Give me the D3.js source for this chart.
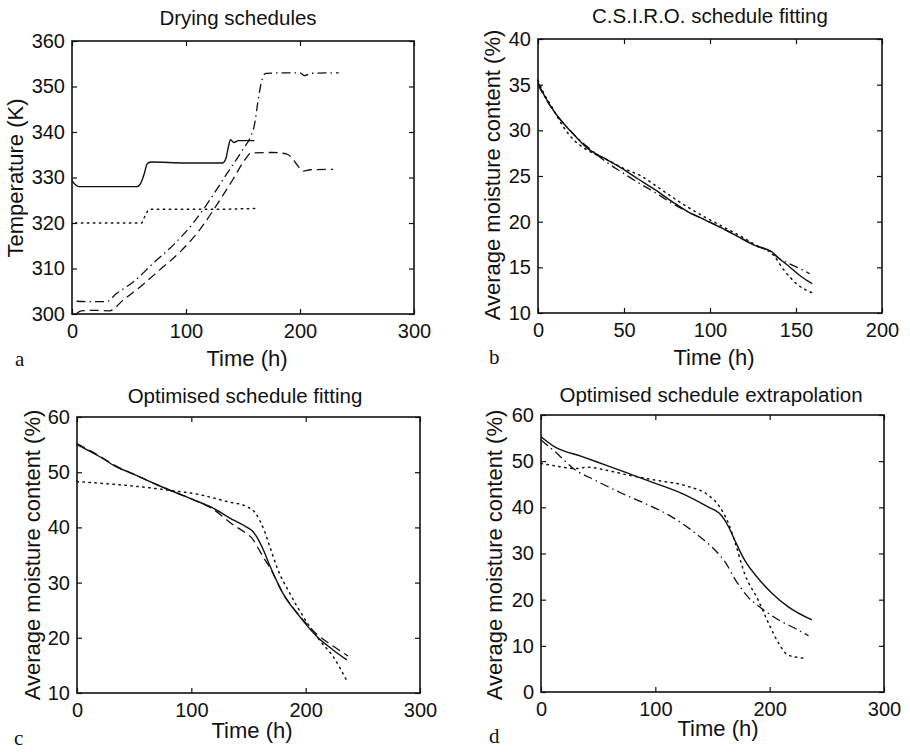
<!DOCTYPE html>
<html>
<head>
<meta charset="utf-8">
<script src="https://cdn.jsdelivr.net/npm/d3@7"></script>
<style>
  html, body { margin: 0; padding: 0; background: #fff; }
  svg { display: block; }
  text { font-family: "Liberation Sans", Arial, Helvetica, sans-serif; fill: #111; }
  .letter { font-family: "Liberation Serif", "DejaVu Serif", serif; }
</style>
</head>
<body>
<svg id="chart" width="910" height="752"></svg>
<script>
// ---------------- DATA ----------------
// Panel a: Drying schedules (Time h, Temperature K)
const aTicksX = [0, 100, 200, 300];
const aTicksY = [300, 310, 320, 330, 340, 350, 360];
const aSolid = [[0,329.3],[3,328.4],[6,328.0],[30,328.0],[57,328.0],[60,328.6],[63,330.5],[66,333.0],[69,333.4],[100,333.2],[132,333.2],[135,334.2],[137,336.5],[139,338.3],[142,337.7],[146,338.1],[160,338.1]];
const aDotted = [[3,320.0],[61,320.0],[64,321.5],[68,323.0],[120,323.0],[162,323.2]];
const aDashed = [[4,300.1],[8,300.7],[20,300.8],[33,300.7],[45,303.1],[60,306.0],[77,309.7],[95,313.7],[112,318.5],[127,324.0],[141,329.5],[152,334.0],[157,335.4],[175,335.5],[188,335.2],[193,334.3],[198,332.6],[203,331.4],[209,331.7],[229,331.8]];
const aDashDot = [[4,302.8],[15,302.7],[30,302.7],[39,304.5],[54,307.1],[71,311.1],[89,315.2],[106,319.9],[118,324.0],[136,330.9],[150,336.2],[157,339.2],[160,341.5],[163,346.5],[166,350.8],[170,352.9],[185,353.0],[200,353.0],[204,352.4],[210,352.9],[234,353.0]];

// Panel b: C.S.I.R.O. schedule fitting (Time h, moisture %)
const bTicksX = [0, 50, 100, 150, 200];
const bTicksY = [10, 15, 20, 25, 30, 35, 40];
const bSolid = [[0,35.3],[2,34.4],[4,33.7],[10,31.9],[20,29.7],[29,28.0],[39,26.9],[49,25.8],[58,24.7],[68,23.5],[78,22.2],[87,21.1],[97,20.2],[107,19.3],[116,18.4],[126,17.4],[136,16.7],[140,16.0],[146,15.1],[153,14.0],[159.5,13.2]];
const bDashDot = [[0,35.0],[4,33.6],[10,31.9],[20,29.7],[30,28.0],[40,26.5],[48,25.5],[58,24.3],[68,23.2],[78,22.0],[88,21.0],[97,20.2],[107,19.3],[116,18.4],[126,17.4],[136,16.6],[140,16.0],[146,15.4],[153,14.8],[158,14.3]];
const bDotted = [[0,35.5],[3,34.2],[8,32.6],[14,30.6],[20,29.1],[29,27.8],[40,26.8],[50,25.8],[60,25.0],[68,24.0],[78,22.7],[87,21.6],[97,20.5],[107,19.5],[117,18.5],[126,17.5],[137,16.3],[143,14.7],[151,13.1],[159.5,12.2]];

// Panel c: Optimised schedule fitting
const cTicksX = [0, 100, 200, 300];
const cTicksY = [10, 20, 30, 40, 50, 60];
const cSolid = [[0,55.0],[20,52.8],[35,50.9],[49,49.7],[67,48.0],[84,46.5],[102,45.0],[119,43.5],[137,41.3],[148,40.1],[154,39.2],[158,38.0],[163,35.9],[169,32.9],[180,28.1],[195,23.8],[210,20.2],[224,17.8],[236,16.0]];
const cDashed = [[0,55.2],[20,52.9],[35,51.0],[49,49.7],[67,48.0],[84,46.5],[102,45.0],[119,43.3],[135,40.7],[148,38.9],[154,37.8],[158,36.4],[163,34.6],[169,32.6],[180,28.1],[195,23.9],[210,20.6],[224,18.5],[237,16.7]];
const cDotted = [[0,48.3],[20,48.0],[49,47.5],[78,46.8],[108,45.9],[131,44.7],[148,43.8],[156,42.6],[160,41.2],[164,39.3],[169,36.3],[175,32.7],[186,28.1],[198,23.8],[212,19.6],[224,16.6],[237,11.8]];

// Panel d: Optimised schedule extrapolation
const dTicksX = [0, 100, 200, 300];
const dTicksY = [0, 10, 20, 30, 40, 50, 60];
const dSolid = [[0,55.3],[12,53.1],[36,51.0],[56,49.2],[76,47.4],[100,45.2],[126,42.7],[146,40.1],[156,38.7],[160,37.5],[164,35.8],[170,32.6],[178,28.6],[190,24.6],[202,21.4],[216,18.5],[237,15.6]];
const dDashDot = [[0,54.6],[12,52.1],[30,48.1],[47,45.9],[71,43.0],[94,40.5],[114,38.0],[135,34.4],[155,30.0],[161,28.2],[170,24.3],[181,20.6],[193,18.1],[208,15.6],[222,13.8],[234,12.2]];
const dDotted = [[0,49.5],[12,49.0],[30,48.4],[41,48.7],[56,48.1],[76,47.0],[100,45.9],[129,44.5],[146,42.7],[156,40.2],[164,36.5],[170,32.2],[178,25.7],[190,19.9],[199,14.9],[208,10.5],[216,8.0],[231,7.3]];

// ---------------- STYLES ----------------
const STYLE = {
  solid:   { dash: null,              width: 1.4 },
  dashed:  { dash: "9,5",             width: 1.3 },
  dotted:  { dash: "1.4,4.6",         width: 1.5 },
  dashdot: { dash: "9,4,1.5,4",       width: 1.3 }
};

const svg = d3.select("#chart");

function drawPanel(cfg) {
  const x = d3.scaleLinear().domain(cfg.xDomain).range([cfg.left, cfg.right]);
  const y = d3.scaleLinear().domain(cfg.yDomain).range([cfg.bottom, cfg.top]);
  const g = svg.append("g");
  const tick = 5;

  // bottom axis (labels) with inward ticks
  const ax = g.append("g").attr("transform", `translate(0,${cfg.bottom})`)
    .call(d3.axisBottom(x).tickValues(cfg.xTicks).tickSizeInner(-tick).tickSizeOuter(0).tickPadding(10).tickFormat(d3.format("d")));
  ax.selectAll("text").attr("font-size", 20);
  // top axis ticks
  g.append("g").attr("transform", `translate(0,${cfg.top})`)
    .call(d3.axisTop(x).tickValues(cfg.xTicks).tickSizeInner(-tick).tickSizeOuter(0).tickFormat(""));
  // left axis
  const ay = g.append("g").attr("transform", `translate(${cfg.left},0)`)
    .call(d3.axisLeft(y).tickValues(cfg.yTicks).tickSizeInner(-tick).tickSizeOuter(0).tickPadding(7).tickFormat(d3.format("d")));
  ay.selectAll("text").attr("font-size", 20);
  // right axis ticks
  g.append("g").attr("transform", `translate(${cfg.right},0)`)
    .call(d3.axisRight(y).tickValues(cfg.yTicks).tickSizeInner(-tick).tickSizeOuter(0).tickFormat(""));

  g.selectAll(".domain").remove();
  g.selectAll(".tick line").attr("stroke", "#111").attr("stroke-width", 1.2);
  g.selectAll(".tick text").attr("fill", "#111").attr("font-family", '"Liberation Sans", Arial, sans-serif');

  // frame
  g.append("rect")
    .attr("x", cfg.left).attr("y", cfg.top)
    .attr("width", cfg.right - cfg.left).attr("height", cfg.bottom - cfg.top)
    .attr("fill", "none").attr("stroke", "#111").attr("stroke-width", 1.6);

  // series
  const line = d3.line().x(d => x(d[0])).y(d => y(d[1])).curve(d3.curveMonotoneX);
  cfg.series.forEach(s => {
    const st = STYLE[s.style];
    g.append("path").datum(s.data)
      .attr("d", line)
      .attr("fill", "none")
      .attr("stroke", "#111")
      .attr("stroke-width", st.width)
      .attr("stroke-linecap", s.style === "dotted" ? "round" : "butt")
      .attr("stroke-dasharray", st.dash);
  });

  // title
  g.append("text").attr("x", cfg.titleX).attr("y", cfg.titleY)
    .attr("text-anchor", "middle").attr("font-size", 20.5).text(cfg.title);
  // x label
  g.append("text").attr("x", cfg.xLabelX).attr("y", cfg.xLabelY)
    .attr("text-anchor", "middle").attr("font-size", 22).text(cfg.xLabel);
  // y label
  g.append("text")
    .attr("transform", `translate(${cfg.yLabelX},${cfg.yLabelY}) rotate(-90)`)
    .attr("text-anchor", "middle").attr("dy", "0.35em").attr("font-size", 22).text(cfg.yLabel);
  // panel letter
  g.append("text").attr("class", "letter").attr("x", cfg.letterX).attr("y", cfg.letterY)
    .attr("font-size", 21).text(cfg.letter);
}

drawPanel({
  left: 72, right: 414, top: 41, bottom: 314,
  xDomain: [0, 300], yDomain: [300, 360], xTicks: aTicksX, yTicks: aTicksY,
  title: "Drying schedules", titleX: 238, titleY: 25,
  xLabel: "Time (h)", xLabelX: 247, xLabelY: 366,
  yLabel: "Temperature (K)", yLabelX: 15, yLabelY: 178,
  letter: "a", letterX: 15, letterY: 366,
  series: [
    { data: aSolid, style: "solid" },
    { data: aDotted, style: "dotted" },
    { data: aDashed, style: "dashed" },
    { data: aDashDot, style: "dashdot" }
  ]
});

drawPanel({
  left: 538, right: 882, top: 39, bottom: 313,
  xDomain: [0, 200], yDomain: [10, 40], xTicks: bTicksX, yTicks: bTicksY,
  title: "C.S.I.R.O. schedule fitting", titleX: 710, titleY: 23,
  xLabelX: 714, xLabelY: 365, xLabel: "Time (h)",
  yLabel: "Average moisture content (%)", yLabelX: 492, yLabelY: 175,
  letter: "b", letterX: 489, letterY: 364,
  series: [
    { data: bSolid, style: "solid" },
    { data: bDashDot, style: "dashdot" },
    { data: bDotted, style: "dotted" }
  ]
});

drawPanel({
  left: 77, right: 420, top: 417, bottom: 693,
  xDomain: [0, 300], yDomain: [10, 60], xTicks: cTicksX, yTicks: cTicksY,
  title: "Optimised schedule fitting", titleX: 245, titleY: 403,
  xLabel: "Time (h)", xLabelX: 252, xLabelY: 738,
  yLabel: "Average moisture content (%)", yLabelX: 32, yLabelY: 555,
  letter: "c", letterX: 14, letterY: 745,
  series: [
    { data: cSolid, style: "solid" },
    { data: cDashed, style: "dashed" },
    { data: cDotted, style: "dotted" }
  ]
});

drawPanel({
  left: 541, right: 884, top: 415, bottom: 692,
  xDomain: [0, 300], yDomain: [0, 60], xTicks: dTicksX, yTicks: dTicksY,
  title: "Optimised schedule extrapolation", titleX: 711, titleY: 402,
  xLabel: "Time (h)", xLabelX: 718, xLabelY: 736,
  yLabel: "Average moisture content (%)", yLabelX: 494, yLabelY: 555,
  letter: "d", letterX: 489, letterY: 743,
  series: [
    { data: dSolid, style: "solid" },
    { data: dDashDot, style: "dashdot" },
    { data: dDotted, style: "dotted" }
  ]
});
</script>
</body>
</html>
